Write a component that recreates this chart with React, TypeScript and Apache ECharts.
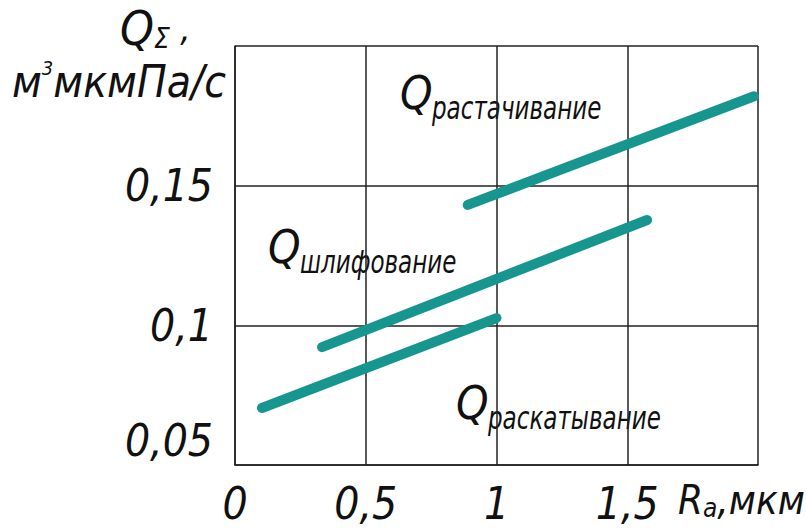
import React, { useEffect, useRef } from "react";
import * as echarts from "echarts";

// Surface roughness Ra, µm
const xTicks = [0, 0.5, 1, 1.5, 2];
// Total flow Q, m³·µm·Pa/s
const yTicks = [0.05, 0.1, 0.15, 0.2];

const boringRa = [0.89, 1.985];
const boringQ = [0.1431, 0.182];

const grindingRa = [0.333, 1.576];
const grindingQ = [0.0922, 0.1377];

const rollingRa = [0.103, 1.0];
const rollingQ = [0.0704, 0.1026];

const LINE_COLOR = "#17958f";
const FONT = "'Liberation Sans Narrow', 'DejaVu Sans Condensed', sans-serif";

const toPairs = (xs: number[], ys: number[]) => xs.map((x, i) => [x, ys[i]]);

const fmt = (v: number) => String(+v.toFixed(2)).replace(".", ",");

export default function App() {
  const ref = useRef<HTMLDivElement>(null);

  useEffect(() => {
    if (!ref.current) return;
    const chart = echarts.init(ref.current, undefined, { renderer: "svg" });

    const lineSeries = (name: string, xs: number[], ys: number[]) => ({
      name,
      type: "line",
      data: toPairs(xs, ys),
      showSymbol: false,
      symbol: "none",
      lineStyle: { color: LINE_COLOR, width: 10, cap: "round" },
      z: 5,
    });

    const label = (q: string, sub: string, left: number, top: number) => ({
      type: "group",
      left,
      top,
      children: [
        {
          type: "text",
          x: 0,
          y: 0,
          style: {
            text: q,
            font: `italic 46px ${FONT}`,
            fill: "#111",
          },
        },
        {
          type: "text",
          x: 32,
          y: 22,
          scaleX: 0.8,
          style: {
            text: sub,
            font: `italic 32px ${FONT}`,
            fill: "#111",
          },
        },
      ],
    });

    const tickText = { fontFamily: FONT, fontStyle: "italic", fontSize: 44, color: "#111" };

    chart.setOption({
      animation: false,
      backgroundColor: "#fff",
      grid: {
        left: 235,
        right: 49,
        top: 46,
        bottom: 64,
        containLabel: false,
        outerBoundsMode: "none",
      },
      xAxis: {
        type: "value",
        min: 0,
        max: 2,
        interval: 0.5,
        axisLine: { show: true, lineStyle: { color: "#222", width: 1.5 } },
        axisTick: { show: false },
        splitLine: { show: true, lineStyle: { color: "#222", width: 1.5 } },
        axisLabel: {
          margin: 16,
          ...tickText,
          formatter: (v: number) => (v === xTicks[xTicks.length - 1] ? "" : fmt(v)),
        },
        name: "{r|R}{s|а}{r|,мкм}",
        nameLocation: "end",
        nameGap: -80,
        nameTextStyle: {
          verticalAlign: "top",
          padding: [14, 0, 0, 0],
          rich: {
            r: { ...tickText, fontSize: 40 },
            s: { ...tickText, fontSize: 26, padding: [16, 0, 0, 0] },
          },
        },
      },
      yAxis: {
        type: "value",
        min: yTicks[0],
        max: yTicks[yTicks.length - 1],
        interval: 0.05,
        axisLine: { show: true, lineStyle: { color: "#222", width: 1.5 } },
        axisTick: { show: false },
        splitLine: { show: true, lineStyle: { color: "#222", width: 1.5 } },
        axisLabel: {
          margin: 22,
          color: "#111",
          formatter: (v: number) => {
            if (Math.abs(v - yTicks[yTicks.length - 1]) < 1e-9) return "";
            if (Math.abs(v - yTicks[0]) < 1e-9) return `{low|${fmt(v)}}`;
            return `{n|${fmt(v)}}`;
          },
          rich: {
            n: { ...tickText },
            low: { ...tickText, padding: [0, 0, 50, 0] },
          },
        },
      },
      series: [
        lineSeries("Растачивание", boringRa, boringQ),
        lineSeries("Шлифование", grindingRa, grindingQ),
        lineSeries("Раскатывание", rollingRa, rollingQ),
      ],
      graphic: [
        {
          type: "text",
          left: 120,
          top: 4,
          style: {
            text: "{q|Q}{s|Σ}{c| ,}",
            rich: {
              q: { font: `italic 48px ${FONT}`, fill: "#111" },
              s: { font: `italic 28px ${FONT}`, fill: "#111", padding: [20, 0, 0, 0] },
              c: { font: `italic 36px ${FONT}`, fill: "#111" },
            },
          },
        },
        {
          type: "text",
          left: 12,
          top: 58,
          style: {
            text: "{t|м}{p|3}{t|мкмПа/с}",
            rich: {
              t: { font: `italic 44px ${FONT}`, fill: "#111" },
              p: { font: `italic 20px ${FONT}`, fill: "#111", padding: [0, 0, 26, 0] },
            },
          },
        },
        label("Q", "растачивание", 400, 70),
        label("Q", "шлифование", 268, 224),
        label("Q", "раскатывание", 456, 380),
      ],
    });

    return () => chart.dispose();
  }, []);

  return (
    <div
      ref={ref}
      style={{ position: "fixed", left: 0, top: 0, width: 807, height: 529 }}
    />
  );
}
